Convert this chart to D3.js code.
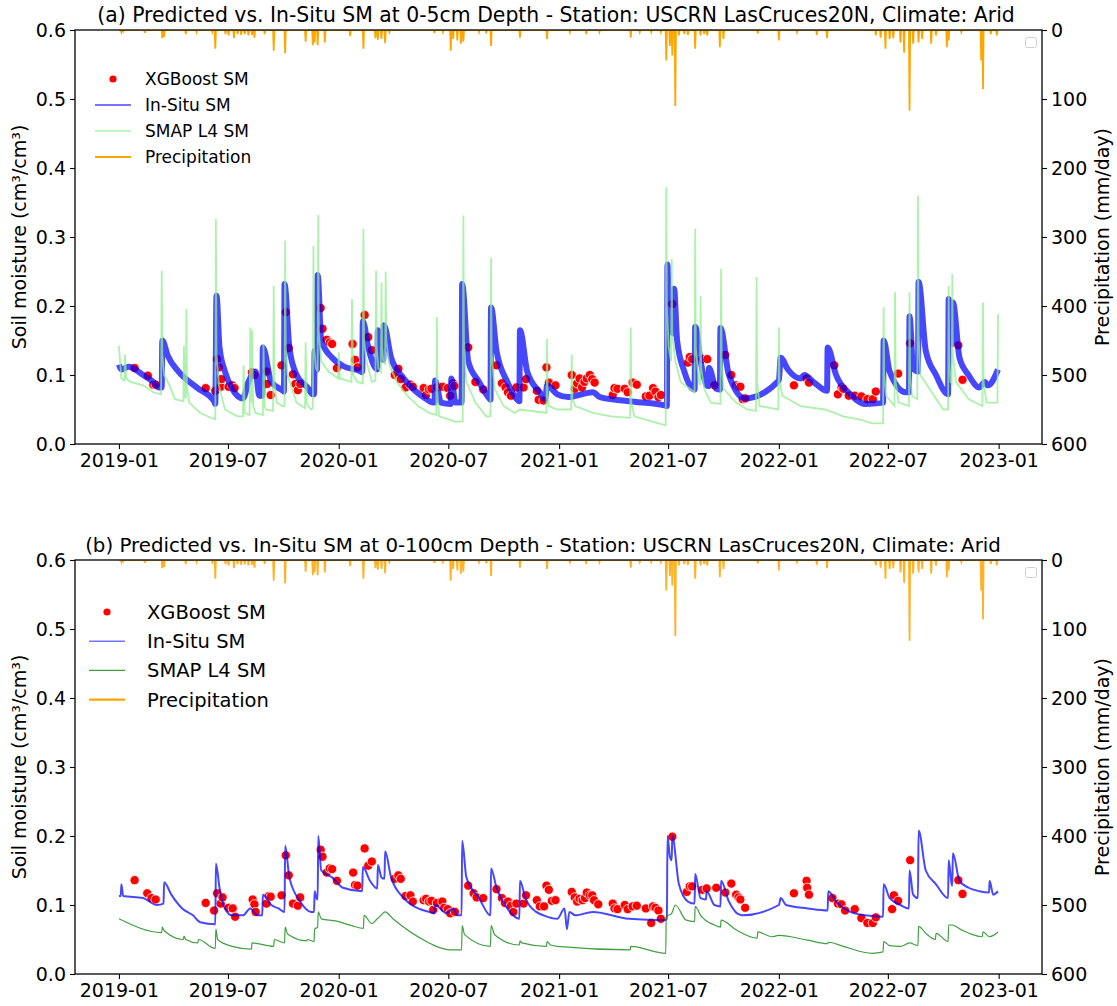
<!DOCTYPE html>
<html>
<head>
<meta charset="utf-8">
<script src="https://cdn.jsdelivr.net/npm/d3@7"></script>
<style>
  body { margin: 0; background: #fff; }
  svg { font-family: 'DejaVu Sans', sans-serif; }
  .tick text { fill: #000; }
</style>
</head>
<body>
<div id="chart"></div>
<script>
// ---- data ----
const xTickDates = ['2019-01-01', '2019-07-01', '2020-01-01', '2020-07-01', '2021-01-01',
    '2021-07-01', '2022-01-01', '2022-07-01', '2023-01-01'];
const smTicks = [0, 0.1, 0.2, 0.3, 0.4, 0.5, 0.6];
const precipTicks = [0, 100, 200, 300, 400, 500, 600];

// (a) 0-5cm in-situ
const insituA = [['2019-01-01',0.115],['2019-01-05',0.108],['2019-01-17',0.112],['2019-02-10',0.100],['2019-02-27',0.090],['2019-03-08',0.082],['2019-03-13',0.082],['2019-03-14',0.150],['2019-03-23',0.128],['2019-04-10',0.105],['2019-05-10',0.082],['2019-06-08',0.062],['2019-06-10',0.058],['2019-06-12',0.215],['2019-06-17',0.140],['2019-06-26',0.105],['2019-07-08',0.080],['2019-07-26',0.066],['2019-08-04',0.090],['2019-08-16',0.105],['2019-08-22',0.070],['2019-08-27',0.070],['2019-08-28',0.140],['2019-09-11',0.090],['2019-09-29',0.078],['2019-10-02',0.076],['2019-10-03',0.232],['2019-10-11',0.140],['2019-10-23',0.100],['2019-11-10',0.082],['2019-11-19',0.072],['2019-11-21',0.072],['2019-11-22',0.135],['2019-11-25',0.110],['2019-11-26',0.108],['2019-11-27',0.245],['2019-12-03',0.150],['2019-12-21',0.125],['2020-01-08',0.113],['2020-02-07',0.105],['2020-02-09',0.104],['2020-02-10',0.178],['2020-02-19',0.140],['2020-03-02',0.110],['2020-03-05',0.108],['2020-03-06',0.165],['2020-03-11',0.125],['2020-03-15',0.122],['2020-03-16',0.172],['2020-03-28',0.125],['2020-04-18',0.095],['2020-05-06',0.078],['2020-05-24',0.066],['2020-06-06',0.060],['2020-06-08',0.060],['2020-06-09',0.092],['2020-06-19',0.060],['2020-07-05',0.058],['2020-07-06',0.095],['2020-07-13',0.060],['2020-07-23',0.060],['2020-07-24',0.232],['2020-08-03',0.120],['2020-08-21',0.090],['2020-09-08',0.065],['2020-09-09',0.064],['2020-09-10',0.198],['2020-09-19',0.135],['2020-10-07',0.090],['2020-10-25',0.063],['2020-10-27',0.062],['2020-10-28',0.165],['2020-11-09',0.105],['2020-11-30',0.075],['2020-12-09',0.065],['2020-12-12',0.085],['2020-12-29',0.072],['2021-01-16',0.068],['2021-02-26',0.075],['2021-03-10',0.068],['2021-04-27',0.062],['2021-06-25',0.056],['2021-06-29',0.055],['2021-06-30',0.260],['2021-07-02',0.200],['2021-07-07',0.165],['2021-07-10',0.160],['2021-07-11',0.225],['2021-07-16',0.150],['2021-07-28',0.105],['2021-08-11',0.080],['2021-08-14',0.079],['2021-08-15',0.170],['2021-08-24',0.120],['2021-09-03',0.085],['2021-09-06',0.084],['2021-09-07',0.110],['2021-09-19',0.080],['2021-09-25',0.079],['2021-09-26',0.168],['2021-10-10',0.100],['2021-11-06',0.066],['2022-01-01',0.092],['2022-01-04',0.125],['2022-01-16',0.108],['2022-02-06',0.095],['2022-02-12',0.100],['2022-03-02',0.088],['2022-03-22',0.077],['2022-03-23',0.140],['2022-04-06',0.100],['2022-04-30',0.072],['2022-05-24',0.058],['2022-06-23',0.060],['2022-06-24',0.150],['2022-07-04',0.105],['2022-07-31',0.075],['2022-08-05',0.075],['2022-08-06',0.185],['2022-08-12',0.110],['2022-08-20',0.105],['2022-08-21',0.235],['2022-09-02',0.135],['2022-09-19',0.100],['2022-10-09',0.072],['2022-10-10',0.210],['2022-10-14',0.150],['2022-10-16',0.145],['2022-10-17',0.205],['2022-10-28',0.125],['2022-11-12',0.100],['2022-11-30',0.082],['2022-12-09',0.090],['2022-12-14',0.085],['2022-12-31',0.108]];

// (a) SMAP L4 surface
const smapA = [['2019-01-01',0.142],['2019-01-05',0.095],['2019-01-10',0.092],['2019-01-11',0.130],['2019-01-13',0.095],['2019-01-20',0.090],['2019-02-10',0.085],['2019-02-27',0.075],['2019-03-12',0.072],['2019-03-13',0.251],['2019-03-14',0.130],['2019-03-17',0.100],['2019-03-26',0.085],['2019-04-04',0.065],['2019-04-18',0.062],['2019-04-19',0.142],['2019-04-20',0.070],['2019-04-22',0.066],['2019-04-23',0.196],['2019-04-24',0.080],['2019-04-28',0.060],['2019-05-16',0.045],['2019-06-03',0.038],['2019-06-10',0.036],['2019-06-11',0.326],['2019-06-12',0.130],['2019-06-16',0.085],['2019-06-26',0.050],['2019-07-17',0.040],['2019-07-26',0.040],['2019-07-27',0.114],['2019-07-29',0.045],['2019-08-06',0.042],['2019-08-07',0.169],['2019-08-08',0.070],['2019-08-09',0.060],['2019-08-10',0.165],['2019-08-12',0.055],['2019-08-16',0.045],['2019-08-28',0.042],['2019-08-29',0.145],['2019-08-31',0.055],['2019-09-02',0.050],['2019-09-14',0.048],['2019-09-15',0.229],['2019-09-16',0.090],['2019-09-20',0.060],['2019-09-29',0.055],['2019-10-03',0.055],['2019-10-04',0.295],['2019-10-05',0.140],['2019-10-08',0.100],['2019-10-23',0.060],['2019-11-06',0.052],['2019-11-07',0.147],['2019-11-09',0.058],['2019-11-16',0.050],['2019-11-19',0.052],['2019-11-20',0.287],['2019-11-21',0.140],['2019-11-24',0.110],['2019-11-27',0.105],['2019-11-28',0.332],['2019-11-29',0.160],['2019-12-03',0.120],['2019-12-15',0.105],['2019-12-31',0.095],['2020-01-01',0.133],['2020-01-03',0.095],['2020-01-22',0.090],['2020-01-23',0.210],['2020-01-25',0.100],['2020-02-01',0.090],['2020-02-10',0.088],['2020-02-11',0.312],['2020-02-12',0.150],['2020-02-16',0.120],['2020-02-25',0.090],['2020-03-02',0.092],['2020-03-03',0.251],['2020-03-04',0.140],['2020-03-07',0.110],['2020-03-11',0.105],['2020-03-12',0.234],['2020-03-13',0.140],['2020-03-15',0.120],['2020-03-18',0.115],['2020-03-19',0.250],['2020-03-20',0.150],['2020-03-25',0.115],['2020-04-06',0.090],['2020-04-24',0.070],['2020-05-12',0.055],['2020-05-30',0.045],['2020-06-11',0.042],['2020-06-12',0.184],['2020-06-13',0.070],['2020-06-16',0.040],['2020-07-04',0.035],['2020-07-13',0.032],['2020-07-25',0.033],['2020-07-26',0.331],['2020-07-27',0.150],['2020-07-31',0.090],['2020-08-15',0.060],['2020-09-02',0.040],['2020-09-09',0.040],['2020-09-10',0.270],['2020-09-11',0.130],['2020-09-16',0.080],['2020-10-01',0.055],['2020-10-19',0.045],['2020-10-28',0.050],['2020-12-11',0.045],['2020-12-12',0.152],['2020-12-13',0.070],['2020-12-15',0.055],['2020-12-29',0.050],['2021-01-21',0.050],['2021-01-22',0.130],['2021-01-23',0.065],['2021-01-28',0.055],['2021-02-26',0.045],['2021-03-28',0.040],['2021-04-29',0.038],['2021-04-30',0.169],['2021-05-01',0.060],['2021-05-06',0.040],['2021-06-02',0.033],['2021-06-27',0.027],['2021-06-28',0.372],['2021-06-29',0.200],['2021-07-02',0.140],['2021-07-06',0.120],['2021-07-07',0.268],['2021-07-08',0.160],['2021-07-13',0.120],['2021-07-22',0.090],['2021-08-14',0.075],['2021-08-15',0.312],['2021-08-16',0.140],['2021-08-21',0.090],['2021-08-23',0.085],['2021-08-24',0.215],['2021-08-25',0.110],['2021-08-30',0.080],['2021-09-10',0.060],['2021-09-26',0.058],['2021-09-27',0.254],['2021-09-28',0.120],['2021-10-01',0.080],['2021-10-22',0.060],['2021-11-09',0.050],['2021-11-24',0.048],['2021-11-25',0.242],['2021-11-26',0.090],['2021-11-30',0.055],['2021-12-31',0.050],['2022-01-01',0.169],['2022-01-02',0.090],['2022-01-07',0.070],['2022-02-06',0.055],['2022-03-19',0.050],['2022-04-18',0.040],['2022-05-18',0.035],['2022-06-05',0.030],['2022-06-23',0.030],['2022-06-24',0.198],['2022-06-25',0.100],['2022-06-28',0.070],['2022-07-12',0.055],['2022-07-13',0.220],['2022-07-14',0.090],['2022-07-19',0.060],['2022-08-05',0.055],['2022-08-06',0.220],['2022-08-07',0.100],['2022-08-10',0.070],['2022-08-19',0.065],['2022-08-20',0.360],['2022-08-21',0.160],['2022-08-24',0.100],['2022-09-08',0.080],['2022-10-01',0.050],['2022-10-09',0.050],['2022-10-10',0.229],['2022-10-11',0.120],['2022-10-13',0.090],['2022-10-15',0.088],['2022-10-16',0.246],['2022-10-17',0.130],['2022-10-22',0.090],['2022-11-12',0.065],['2022-12-05',0.055],['2022-12-06',0.205],['2022-12-07',0.090],['2022-12-12',0.060],['2022-12-20',0.060],['2022-12-30',0.060],['2022-12-31',0.188]];

// (a) XGBoost predictions
const xgbA = [['2019-01-27',0.110],['2019-02-18',0.099],['2019-02-27',0.086],['2019-03-03',0.086],['2019-05-25',0.081],['2019-06-10',0.077],['2019-06-13',0.123],['2019-06-16',0.111],['2019-06-19',0.083],['2019-06-20',0.094],['2019-07-02',0.083],['2019-07-08',0.085],['2019-07-12',0.081],['2019-08-10',0.104],['2019-08-14',0.100],['2019-09-03',0.105],['2019-09-04',0.087],['2019-09-10',0.071],['2019-09-28',0.114],['2019-10-05',0.191],['2019-10-10',0.139],['2019-10-17',0.101],['2019-10-21',0.087],['2019-10-25',0.078],['2019-10-29',0.087],['2019-12-02',0.197],['2019-12-05',0.167],['2019-12-12',0.151],['2019-12-17',0.147],['2019-12-21',0.145],['2019-12-29',0.110],['2020-01-24',0.145],['2020-01-28',0.122],['2020-02-01',0.111],['2020-02-13',0.187],['2020-02-19',0.155],['2020-02-25',0.136],['2020-04-03',0.100],['2020-04-09',0.109],['2020-04-13',0.094],['2020-04-21',0.082],['2020-04-29',0.086],['2020-05-03',0.083],['2020-05-21',0.081],['2020-05-25',0.071],['2020-05-30',0.079],['2020-06-03',0.080],['2020-06-12',0.082],['2020-06-21',0.083],['2020-06-30',0.081],['2020-07-04',0.070],['2020-07-09',0.088],['2020-07-11',0.084],['2020-08-03',0.140],['2020-08-15',0.090],['2020-08-28',0.079],['2020-09-19',0.114],['2020-09-28',0.088],['2020-10-04',0.082],['2020-10-08',0.075],['2020-10-13',0.070],['2020-10-22',0.082],['2020-11-03',0.082],['2020-11-07',0.094],['2020-11-25',0.077],['2020-11-28',0.064],['2020-12-06',0.063],['2020-12-11',0.111],['2020-12-15',0.089],['2020-12-26',0.085],['2021-01-22',0.100],['2021-01-27',0.080],['2021-01-31',0.088],['2021-02-04',0.095],['2021-02-08',0.082],['2021-02-12',0.090],['2021-02-16',0.095],['2021-02-21',0.100],['2021-02-25',0.094],['2021-03-01',0.089],['2021-03-31',0.071],['2021-04-03',0.081],['2021-04-08',0.080],['2021-04-20',0.080],['2021-04-25',0.075],['2021-05-03',0.089],['2021-05-10',0.086],['2021-05-25',0.069],['2021-05-31',0.070],['2021-06-06',0.081],['2021-06-10',0.076],['2021-06-15',0.068],['2021-06-19',0.071],['2021-07-08',0.203],['2021-08-03',0.118],['2021-08-06',0.126],['2021-08-10',0.123],['2021-08-27',0.123],['2021-09-04',0.123],['2021-09-16',0.085],['2021-10-04',0.129],['2021-10-14',0.100],['2021-10-22',0.085],['2021-10-26',0.083],['2021-10-29',0.083],['2021-11-02',0.065],['2021-11-06',0.066],['2022-01-26',0.085],['2022-02-16',0.095],['2022-02-20',0.089],['2022-04-03',0.114],['2022-04-09',0.072],['2022-04-15',0.082],['2022-04-18',0.080],['2022-04-27',0.070],['2022-05-07',0.070],['2022-05-18',0.069],['2022-05-28',0.065],['2022-06-06',0.065],['2022-06-11',0.076],['2022-07-18',0.102],['2022-08-07',0.146],['2022-10-26',0.143],['2022-11-02',0.093]];

// (b) 0-100cm in-situ
const insituB = [['2019-01-01',0.113],['2019-01-04',0.113],['2019-01-05',0.130],['2019-01-08',0.113],['2019-02-10',0.110],['2019-03-05',0.100],['2019-03-16',0.102],['2019-03-17',0.133],['2019-03-29',0.115],['2019-04-16',0.095],['2019-05-04',0.085],['2019-05-16',0.075],['2019-06-10',0.072],['2019-06-11',0.160],['2019-06-17',0.125],['2019-06-26',0.095],['2019-07-08',0.085],['2019-07-26',0.085],['2019-08-07',0.095],['2019-08-19',0.085],['2019-08-27',0.085],['2019-08-28',0.115],['2019-09-11',0.100],['2019-09-23',0.095],['2019-10-03',0.090],['2019-10-04',0.186],['2019-10-11',0.140],['2019-10-29',0.105],['2019-11-16',0.090],['2019-11-21',0.090],['2019-11-22',0.120],['2019-11-25',0.110],['2019-11-27',0.108],['2019-11-28',0.200],['2019-12-03',0.150],['2019-12-21',0.140],['2020-01-08',0.125],['2020-02-09',0.120],['2020-02-10',0.155],['2020-02-22',0.135],['2020-03-05',0.124],['2020-03-06',0.158],['2020-03-12',0.140],['2020-03-17',0.138],['2020-03-18',0.178],['2020-03-28',0.140],['2020-04-18',0.110],['2020-05-12',0.095],['2020-05-30',0.090],['2020-06-08',0.088],['2020-06-09',0.100],['2020-06-28',0.088],['2020-07-09',0.095],['2020-07-16',0.085],['2020-07-23',0.085],['2020-07-24',0.193],['2020-07-31',0.140],['2020-08-21',0.110],['2020-09-09',0.085],['2020-09-10',0.153],['2020-09-19',0.125],['2020-10-07',0.095],['2020-10-27',0.080],['2020-10-28',0.135],['2020-11-06',0.110],['2020-11-24',0.090],['2020-12-06',0.085],['2020-12-29',0.080],['2021-01-10',0.095],['2021-01-14',0.065],['2021-01-18',0.090],['2021-01-28',0.085],['2021-02-26',0.090],['2021-04-27',0.080],['2021-06-25',0.078],['2021-06-29',0.080],['2021-06-30',0.200],['2021-07-04',0.170],['2021-07-07',0.165],['2021-07-08',0.200],['2021-07-19',0.130],['2021-08-03',0.105],['2021-08-14',0.102],['2021-08-15',0.145],['2021-08-24',0.110],['2021-09-02',0.108],['2021-09-03',0.120],['2021-09-16',0.100],['2021-09-26',0.098],['2021-09-27',0.135],['2021-10-10',0.105],['2021-10-31',0.085],['2022-01-01',0.100],['2022-01-04',0.110],['2022-01-13',0.100],['2022-02-18',0.095],['2022-03-23',0.092],['2022-03-24',0.120],['2022-04-06',0.105],['2022-04-30',0.090],['2022-05-24',0.085],['2022-06-23',0.083],['2022-06-24',0.130],['2022-07-04',0.110],['2022-07-22',0.100],['2022-08-05',0.095],['2022-08-06',0.150],['2022-08-12',0.115],['2022-08-20',0.110],['2022-08-21',0.208],['2022-09-02',0.150],['2022-09-19',0.130],['2022-10-09',0.110],['2022-10-10',0.165],['2022-10-15',0.130],['2022-10-16',0.128],['2022-10-17',0.175],['2022-10-28',0.135],['2022-11-12',0.125],['2022-11-30',0.120],['2022-12-16',0.118],['2022-12-17',0.135],['2022-12-23',0.115],['2022-12-31',0.120]];

// (b) SMAP L4 root zone
const smapB = [['2019-01-01',0.080],['2019-03-13',0.060],['2019-03-14',0.068],['2019-03-17',0.063],['2019-04-18',0.050],['2019-04-19',0.055],['2019-04-22',0.050],['2019-05-12',0.045],['2019-05-13',0.050],['2019-06-10',0.037],['2019-06-11',0.065],['2019-06-14',0.050],['2019-07-08',0.040],['2019-08-09',0.036],['2019-08-10',0.045],['2019-09-15',0.040],['2019-09-16',0.050],['2019-10-03',0.045],['2019-10-04',0.068],['2019-10-08',0.058],['2019-11-09',0.048],['2019-11-10',0.050],['2019-11-21',0.047],['2019-11-22',0.065],['2019-11-27',0.068],['2019-11-28',0.090],['2019-12-03',0.080],['2019-12-27',0.077],['2020-01-23',0.070],['2020-02-11',0.066],['2020-02-12',0.085],['2020-02-25',0.073],['2020-03-05',0.080],['2020-03-11',0.085],['2020-03-18',0.090],['2020-03-31',0.080],['2020-05-30',0.045],['2020-06-11',0.040],['2020-07-04',0.035],['2020-07-23',0.035],['2020-07-24',0.070],['2020-07-28',0.057],['2020-09-09',0.040],['2020-09-10',0.070],['2020-09-16',0.057],['2020-10-27',0.042],['2020-10-28',0.048],['2020-10-31',0.045],['2020-12-11',0.040],['2020-12-12',0.047],['2020-12-18',0.042],['2020-12-29',0.040],['2021-04-29',0.035],['2021-04-30',0.040],['2021-06-27',0.030],['2021-06-28',0.083],['2021-07-07',0.088],['2021-07-13',0.100],['2021-07-31',0.078],['2021-08-14',0.076],['2021-08-15',0.098],['2021-08-24',0.085],['2021-09-16',0.071],['2021-09-26',0.068],['2021-09-27',0.078],['2021-10-22',0.064],['2021-11-26',0.052],['2021-11-27',0.061],['2021-12-20',0.054],['2022-01-01',0.056],['2022-02-18',0.049],['2022-03-23',0.044],['2022-03-24',0.046],['2022-04-18',0.040],['2022-06-05',0.030],['2022-06-23',0.032],['2022-06-24',0.047],['2022-07-04',0.041],['2022-07-22',0.040],['2022-08-06',0.045],['2022-08-20',0.041],['2022-08-21',0.069],['2022-09-02',0.059],['2022-09-18',0.050],['2022-09-19',0.059],['2022-10-09',0.047],['2022-10-10',0.071],['2022-10-16',0.071],['2022-10-31',0.064],['2022-12-05',0.054],['2022-12-06',0.061],['2022-12-17',0.054],['2022-12-23',0.056],['2022-12-31',0.061]];

// (b) XGBoost predictions
const xgbB = [['2019-01-27',0.136],['2019-02-17',0.117],['2019-02-24',0.110],['2019-03-03',0.108],['2019-05-25',0.103],['2019-06-08',0.092],['2019-06-13',0.117],['2019-06-19',0.102],['2019-06-22',0.111],['2019-07-02',0.096],['2019-07-09',0.095],['2019-07-13',0.083],['2019-08-11',0.108],['2019-08-14',0.101],['2019-08-16',0.090],['2019-09-03',0.102],['2019-09-07',0.113],['2019-09-10',0.112],['2019-09-28',0.114],['2019-10-05',0.172],['2019-10-10',0.143],['2019-10-17',0.102],['2019-10-25',0.099],['2019-10-29',0.111],['2019-12-02',0.180],['2019-12-05',0.170],['2019-12-12',0.147],['2019-12-17',0.153],['2019-12-21',0.152],['2019-12-29',0.135],['2020-01-25',0.147],['2020-01-28',0.129],['2020-02-01',0.128],['2020-02-13',0.182],['2020-02-19',0.157],['2020-02-25',0.163],['2020-04-03',0.138],['2020-04-09',0.143],['2020-04-13',0.138],['2020-04-21',0.113],['2020-04-29',0.114],['2020-05-03',0.105],['2020-05-21',0.107],['2020-05-25',0.109],['2020-05-30',0.105],['2020-06-03',0.106],['2020-06-06',0.093],['2020-06-12',0.103],['2020-06-21',0.105],['2020-06-24',0.096],['2020-06-30',0.094],['2020-07-04',0.088],['2020-07-12',0.090],['2020-08-03',0.128],['2020-08-12',0.117],['2020-08-17',0.111],['2020-08-28',0.110],['2020-09-19',0.123],['2020-09-28',0.110],['2020-10-03',0.103],['2020-10-08',0.105],['2020-10-13',0.099],['2020-10-17',0.090],['2020-10-22',0.102],['2020-11-03',0.102],['2020-11-07',0.114],['2020-11-25',0.107],['2020-11-30',0.098],['2020-12-07',0.098],['2020-12-11',0.128],['2020-12-15',0.122],['2020-12-20',0.106],['2020-12-26',0.107],['2021-01-22',0.119],['2021-01-27',0.111],['2021-01-31',0.105],['2021-02-04',0.109],['2021-02-09',0.107],['2021-02-13',0.110],['2021-02-16',0.118],['2021-02-21',0.114],['2021-02-25',0.114],['2021-02-28',0.107],['2021-03-07',0.101],['2021-03-31',0.102],['2021-04-03',0.095],['2021-04-08',0.094],['2021-04-20',0.100],['2021-04-25',0.094],['2021-05-03',0.098],['2021-05-10',0.099],['2021-05-25',0.095],['2021-06-03',0.074],['2021-06-06',0.098],['2021-06-10',0.096],['2021-06-15',0.092],['2021-06-19',0.080],['2021-07-08',0.199],['2021-08-01',0.119],['2021-08-06',0.127],['2021-08-10',0.127],['2021-08-27',0.122],['2021-09-03',0.124],['2021-09-19',0.125],['2021-10-04',0.118],['2021-10-14',0.131],['2021-10-22',0.115],['2021-10-26',0.111],['2021-10-29',0.108],['2021-11-06',0.096],['2022-01-26',0.117],['2022-02-16',0.135],['2022-02-17',0.125],['2022-02-20',0.115],['2022-03-31',0.110],['2022-04-09',0.102],['2022-04-15',0.101],['2022-04-21',0.092],['2022-05-07',0.094],['2022-05-18',0.081],['2022-05-28',0.074],['2022-06-06',0.074],['2022-06-11',0.082],['2022-07-08',0.094],['2022-07-11',0.114],['2022-07-18',0.106],['2022-08-07',0.165],['2022-10-26',0.136],['2022-11-02',0.116]];

// daily precipitation (mm/day), rainy days only
const precipEvents = [['2019-01-05',3],['2019-01-08',2],['2019-02-13',4],['2019-03-14',12],['2019-03-17',10],['2019-04-22',6],['2019-05-10',3],['2019-06-05',3],['2019-06-10',27],['2019-06-27',6],['2019-07-02',8],['2019-07-11',12],['2019-07-17',6],['2019-07-23',7],['2019-07-29',6],['2019-08-04',8],['2019-08-10',7],['2019-08-14',11],['2019-08-31',6],['2019-09-15',30],['2019-10-04',34],['2019-11-07',17],['2019-11-19',22],['2019-11-22',18],['2019-11-27',22],['2019-12-09',18],['2020-01-20',9],['2020-02-11',27],['2020-03-02',12],['2020-03-06',14],['2020-03-12',13],['2020-03-18',19],['2020-03-25',3],['2020-06-08',4],['2020-06-22',3],['2020-07-05',30],['2020-07-09',13],['2020-07-16',15],['2020-07-22',20],['2020-07-26',17],['2020-08-21',3],['2020-09-02',5],['2020-09-10',23],['2020-10-28',11],['2020-12-12',13],['2021-01-19',3],['2021-02-15',6],['2021-03-09',3],['2021-04-30',11],['2021-05-15',3],['2021-06-03',3],['2021-06-19',3],['2021-06-28',44],['2021-07-04',23],['2021-07-08',37],['2021-07-13',110],['2021-07-19',8],['2021-07-28',6],['2021-08-03',7],['2021-08-15',27],['2021-08-24',8],['2021-08-30',6],['2021-09-04',8],['2021-09-25',25],['2021-10-01',13],['2021-11-27',5],['2022-01-01',15],['2022-01-31',3],['2022-03-05',7],['2022-03-22',12],['2022-06-11',8],['2022-06-19',11],['2022-06-27',27],['2022-07-04',13],['2022-07-10',12],['2022-07-22',18],['2022-07-28',33],['2022-08-06',117],['2022-08-12',20],['2022-08-21',18],['2022-08-27',13],['2022-09-11',20],['2022-09-19',8],['2022-10-07',25],['2022-10-10',15],['2022-10-31',3],['2022-12-03',44],['2022-12-06',86],['2022-12-19',6],['2022-12-29',8]];
const precipStart = '2019-01-01';
const precipEnd = '2022-12-31';

// ---- setup ----
const W = 1117, H = 1006;
const parse = d3.utcParse('%Y-%m-%d');
const svg = d3.select('#chart').append('svg')
    .attr('width', W).attr('height', H);
svg.append('rect').attr('width', W).attr('height', H).attr('fill', '#fff');

const left = 75, right = 1042;
const x = d3.scaleUtc()
    .domain([parse('2018-10-20'), parse('2023-03-14')])
    .range([left, right]);

// precipitation as a spiky daily line: zero between rainy days
function precipSeries() {
    const pts = [[parse(precipStart), 0]];
    precipEvents.forEach(([d, v]) => {
        const t = parse(d);
        pts.push([d3.utcDay.offset(t, -1), 0], [t, v], [d3.utcDay.offset(t, 1), 0]);
    });
    pts.push([parse(precipEnd), 0]);
    return pts;
}

function drawPanel(cfg, idx) {
    const top = cfg.top, bottom = cfg.top + 414;
    const y = d3.scaleLinear().domain([0, 0.6]).range([bottom, top]);
    const yP = d3.scaleLinear().domain([0, 600]).range([top, bottom]);
    const g = svg.append('g');

    const clipId = 'clip' + idx;
    svg.append('clipPath').attr('id', clipId)
        .append('rect').attr('x', left).attr('y', top)
        .attr('width', right - left).attr('height', bottom - top);
    const plot = g.append('g').attr('clip-path', `url(#${clipId})`);

    // XGBoost dots
    plot.selectAll('circle.xgb')
        .data(cfg.xgb)
        .enter().append('circle')
        .attr('cx', d => x(parse(d[0])))
        .attr('cy', d => y(d[1]))
        .attr('r', 4.6)
        .attr('fill', 'red')
        .attr('stroke', '#fff')
        .attr('stroke-width', 0.8);

    // In-situ
    const smLine = d3.line()
        .x(d => x(parse(d[0])))
        .y(d => y(d[1]))
        .curve(d3.curveMonotoneX);
    plot.append('path')
        .datum(cfg.insitu)
        .attr('d', smLine)
        .attr('fill', 'none')
        .attr('stroke', 'blue')
        .attr('stroke-opacity', 0.72)
        .attr('stroke-width', cfg.insituWidth)
        .attr('stroke-linejoin', 'round');

    // SMAP L4
    const smapLine = d3.line()
        .x(d => x(parse(d[0])))
        .y(d => y(d[1]))
        .curve(cfg.smapCurve);
    plot.append('path')
        .datum(cfg.smap)
        .attr('d', smapLine)
        .attr('fill', 'none')
        .attr('stroke', cfg.smapColor)
        .attr('stroke-opacity', 0.75)
        .attr('stroke-width', cfg.smapWidth);

    // spines
    g.append('rect')
        .attr('x', left).attr('y', top)
        .attr('width', right - left).attr('height', bottom - top)
        .attr('fill', 'none').attr('stroke', '#000').attr('stroke-width', 1.3);

    // precipitation on the inverted right axis
    const pLine = d3.line()
        .x(d => x(d[0]))
        .y(d => yP(d[1]));
    plot.append('path')
        .datum(precipSeries())
        .attr('d', pLine)
        .attr('fill', 'none')
        .attr('stroke', 'orange')
        .attr('stroke-opacity', cfg.precipOpacity)
        .attr('stroke-width', 1.8);

    // axes
    const axL = g.append('g')
        .attr('transform', `translate(${left},0)`)
        .call(d3.axisLeft(y).tickValues(smTicks).tickFormat(d3.format('.1f')).tickSize(5).tickPadding(4));
    const axR = g.append('g')
        .attr('transform', `translate(${right},0)`)
        .call(d3.axisRight(yP).tickValues(precipTicks).tickSize(5).tickPadding(4));
    const axB = g.append('g')
        .attr('transform', `translate(0,${bottom})`)
        .call(d3.axisBottom(x).tickValues(xTickDates.map(parse))
            .tickFormat(d3.utcFormat('%Y-%m')).tickSize(5).tickPadding(5));
    [axL, axR, axB].forEach(a => {
        a.select('.domain').remove();
        a.selectAll('.tick line').attr('stroke', '#000').attr('stroke-width', 1.1);
        a.selectAll('.tick text').attr('font-size', 19).attr('font-family', "'DejaVu Sans', sans-serif");
    });

    // axis labels
    g.append('text')
        .attr('transform', `translate(26,${(top + bottom) / 2}) rotate(-90)`)
        .attr('text-anchor', 'middle')
        .attr('font-size', 19)
        .text('Soil moisture (cm³/cm³)');
    g.append('text')
        .attr('transform', `translate(1109,${(top + bottom) / 2}) rotate(-90)`)
        .attr('text-anchor', 'middle')
        .attr('font-size', 19)
        .text('Precipitation (mm/day)');

    // title
    g.append('text')
        .attr('x', cfg.titleX)
        .attr('y', top - 8)
        .attr('text-anchor', 'middle')
        .attr('font-size', cfg.titleSize)
        .text(cfg.title);

    // legend (upper left)
    const lg = cfg.legend;
    const items = [
        { label: 'XGBoost SM', type: 'dot' },
        { label: 'In-Situ SM', type: 'line', color: 'blue', w: lg.lineW[0], op: 0.55 },
        { label: 'SMAP L4 SM', type: 'line', color: cfg.smapColor, w: lg.lineW[1], op: 0.75 },
        { label: 'Precipitation', type: 'line', color: 'orange', w: lg.lineW[2], op: 1 }
    ];
    items.forEach((it, i) => {
        const yy = lg.y + i * lg.dy;
        if (it.type === 'dot') {
            g.append('circle').attr('cx', lg.x0 + 18).attr('cy', yy).attr('r', 3.6).attr('fill', 'red');
        } else {
            g.append('line')
                .attr('x1', lg.x0).attr('x2', lg.x0 + 36)
                .attr('y1', yy).attr('y2', yy)
                .attr('stroke', it.color).attr('stroke-opacity', it.op)
                .attr('stroke-width', it.w);
        }
        g.append('text')
            .attr('x', lg.tx).attr('y', yy)
            .attr('dy', '0.36em')
            .attr('font-size', lg.fs)
            .text(it.label);
    });

    // empty legend box of the twin axis
    g.append('rect')
        .attr('x', 1025.5).attr('y', top + 7.5)
        .attr('width', 11).attr('height', 10)
        .attr('rx', 2)
        .attr('fill', '#fff')
        .attr('stroke', '#d0d0d0');
}

drawPanel({
    top: 30,
    title: '(a) Predicted vs. In-Situ SM at 0-5cm Depth - Station: USCRN LasCruces20N, Climate: Arid',
    titleX: 556, titleSize: 20.4,
    insitu: insituA, smap: smapA, xgb: xgbA,
    insituWidth: 6, smapColor: 'lightgreen', smapWidth: 1.8, smapCurve: d3.curveLinear,
    precipOpacity: 1,
    legend: { x0: 95, tx: 145, y: 79, dy: 26, fs: 17, lineW: [2.2, 1.6, 2.2] }
}, 0);

drawPanel({
    top: 560,
    title: '(b) Predicted vs. In-Situ SM at 0-100cm Depth - Station: USCRN LasCruces20N, Climate: Arid',
    titleX: 543, titleSize: 19.8,
    insitu: insituB, smap: smapB, xgb: xgbB,
    insituWidth: 2, smapColor: 'green', smapWidth: 1.2, smapCurve: d3.curveMonotoneX,
    precipOpacity: 0.85,
    legend: { x0: 89, tx: 147, y: 612, dy: 29.2, fs: 19.5, lineW: [1.4, 1.4, 2.2] }
}, 1);
</script>
</body>
</html>
